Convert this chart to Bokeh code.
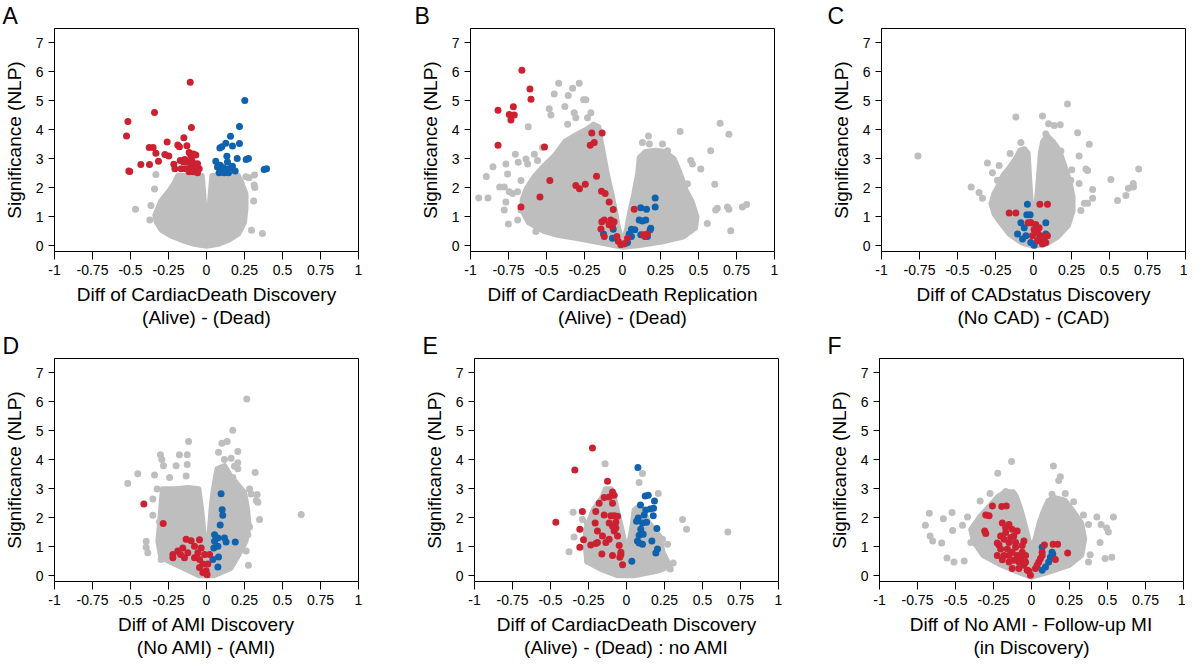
from bokeh.plotting import figure
from bokeh.layouts import column, row
from bokeh.models import FixedTicker, Range1d, Title
from bokeh.embed import file_html
from bokeh.resources import INLINE

FONT = "Liberation Sans"
GREY = "#bebebe"
RED = "#cc2131"
BLUE = "#0f62ae"

X_TICKS = [-1, -0.75, -0.5, -0.25, 0, 0.25, 0.5, 0.75, 1]
X_TICK_LABELS = ["-1", "-0.75", "-0.5", "-0.25", "0", "0.25", "0.5", "0.75", "1"]
Y_TICKS = [0, 1, 2, 3, 4, 5, 6, 7]
Y_TICK_LABELS = ["0", "1", "2", "3", "4", "5", "6", "7"]
Y_TITLE = "Significance (NLP)"

PANEL_LETTERS = ["A", "B", "C", "D", "E", "F"]
X_TITLES_1 = ["Diff of CardiacDeath Discovery", "Diff of CardiacDeath Replication",
              "Diff of CADstatus Discovery", "Diff of AMI Discovery",
              "Diff of CardiacDeath Discovery", "Diff of No AMI - Follow-up MI"]
X_TITLES_2 = ["(Alive) - (Dead)", "(Alive) - (Dead)", "(No CAD) - (CAD)",
              "(No AMI) - (AMI)", "(Alive) - (Dead) : no AMI", "(in Discovery)"]

# ---------------- Panel A ----------------
A_CLOUD_X = [0.0, -0.008, -0.018, -0.028, -0.08, -0.14, -0.19, -0.21, -0.24, -0.27, -0.30, -0.32, -0.34, -0.33, -0.30,
             -0.24, -0.16, -0.08, 0.0, 0.08, 0.15, 0.21, 0.25, 0.26, 0.26, 0.23, 0.21, 0.12, 0.035, 0.025, 0.012]
A_CLOUD_Y = [0.5, 1.0, 1.8, 2.42, 2.42, 2.42, 2.42, 2.2, 1.95, 1.75, 1.55, 1.3, 1.05, 0.8, 0.55,
             0.35, 0.18, 0.05, -0.02, 0.05, 0.2, 0.4, 0.8, 1.3, 1.8, 2.2, 2.42, 2.42, 2.42, 1.8, 1.0]
A_GREY_X = [-0.333, -0.342, -0.467, -0.373, -0.366, 0.368, 0.296, 0.316, 0.314, 0.318, 0.31, 0.259, 0.28]
A_GREY_Y = [2.46, 1.96, 1.26, 0.89, 1.39, 0.42, 0.53, 2.44, 2.10, 2.01, 1.54, 2.38, 2.35]
A_RED_X = [-0.517, -0.526, -0.342, -0.107, -0.099, -0.511, -0.432, -0.375, -0.377, -0.351,
           -0.333, -0.316, -0.259, -0.274, -0.248, -0.215, -0.208, -0.189, -0.178, -0.173,
           -0.167, -0.149, -0.129, -0.143, -0.114, -0.103, -0.086, -0.070, -0.125, -0.096,
           -0.081, -0.059, -0.103, -0.070, -0.048, -0.086, -0.059, -0.136, -0.151, -0.114, -0.505]
A_RED_Y = [4.29, 3.79, 4.60, 5.64, 4.08, 2.58, 2.80, 2.80, 3.39, 3.39,
           3.19, 2.92, 3.58, 3.15, 3.10, 2.81, 2.66, 3.48, 3.42, 2.94,
           2.66, 3.73, 3.45, 2.98, 3.22, 3.11, 3.17, 3.13, 2.89, 2.94,
           2.83, 2.83, 2.72, 2.66, 2.66, 2.55, 2.52, 2.66, 2.89, 2.55, 2.56]
A_BLUE_X = [0.252, 0.217, 0.158, 0.127, 0.217, 0.171, 0.088, 0.101, 0.134, 0.202, 0.261, 0.276, 0.061, 0.138,
            0.090, 0.171, 0.379, 0.395, 0.094, 0.127, 0.149, 0.189, 0.083, 0.116, 0.145, 0.072, 0.112]
A_BLUE_Y = [5.01, 4.12, 3.78, 3.54, 3.53, 3.44, 3.37, 3.42, 3.09, 3.01, 2.98, 3.01, 2.92, 2.89,
            2.78, 2.74, 2.63, 2.66, 2.61, 2.61, 2.66, 2.58, 2.52, 2.52, 2.52, 2.72, 2.69]

# ---------------- Panel B ----------------
B_CLOUD_X = [0.0, -0.011, -0.028, -0.044, -0.07, -0.10, -0.12, -0.14, -0.155, -0.19, -0.23,
             -0.30, -0.38, -0.45, -0.52, -0.58, -0.63, -0.66, -0.66, -0.62, -0.52, -0.42, -0.30, -0.15, -0.05, 0.0,
             0.1, 0.25, 0.40, 0.48, 0.49, 0.46, 0.42, 0.38, 0.34, 0.28, 0.22, 0.15, 0.11,
             0.10, 0.075, 0.045, 0.028, 0.012]
B_CLOUD_Y = [0.15, 0.32, 0.66, 1.12, 1.8, 2.48, 3.05, 3.6, 4.1, 4.2, 4.05,
             3.85, 3.6, 3.1, 2.75, 2.4, 2.0, 1.6, 1.2, 0.8, 0.5, 0.35, 0.25, 0.1, 0.0, -0.05,
             0.0, 0.12, 0.3, 0.6, 1.0, 1.5, 1.9, 2.5, 3.0, 3.25, 3.3, 3.25, 3.05,
             2.5, 1.8, 1.1, 0.6, 0.3]
B_GREY_X = [-0.946, -0.885, -0.896, -0.852, -0.808, -0.778, -0.767, -0.756, -0.745, -0.767,
            -0.751, -0.778, -0.705, -0.686, -0.624, -0.57, -0.62, -0.635, -0.559, -0.482,
            -0.471, -0.42, -0.449, -0.357, -0.328, -0.379, -0.318, -0.285, -0.256, -0.241,
            -0.208, -0.23, -0.51, -0.723, -0.69, -0.668, -0.624, -0.58, -0.526, -0.668, -0.69, -0.307, -0.361,
            0.131, 0.171, 0.177, 0.263, 0.296, 0.379, 0.449, 0.46, 0.515, 0.58, 0.607, 0.642,
            0.70, 0.613, 0.624, 0.69, 0.70, 0.712, 0.789, 0.817, 0.558, 0.47, 0.405, 0.427]
B_GREY_Y = [1.65, 1.65, 2.39, 2.73, 2.03, 2.03, 2.82, 2.48, 1.86, 1.51,
            0.75, 1.23, 3.16, 2.88, 1.0, 0.49, 4.11, 2.99, 2.94, 4.73,
            4.51, 5.61, 5.24, 5.19, 5.44, 4.81, 4.59, 5.61, 5.04, 5.04,
            4.59, 4.42, 1.8, 1.8, 1.86, 2.25, 2.82, 3.16, 3.39, 1.23, 0.89, 4.42, 4.19,
            3.56, 3.79, 3.51, 3.51, 3.28, 3.94, 2.94, 2.82, 2.65, 3.28, 2.12, 4.23,
            3.85, 1.23, 1.29, 1.34, 1.26, 0.52, 1.34, 1.42, 0.77, 0.89, 1.8, 2.14]
B_RED_X = [-0.662, -0.609, -0.602, -0.819, -0.718, -0.745, -0.712, -0.734, -0.819, -0.513,
           -0.202, -0.134, -0.186, -0.212, -0.171, -0.478, -0.307, -0.283, -0.245, -0.543,
           -0.668, -0.138, -0.114, -0.088, -0.061, -0.136, -0.120, -0.077, -0.055, -0.088,
           -0.066, -0.142, -0.120, -0.037, -0.028, -0.011, 0.011, 0.033, 0.077, 0.138,
           0.147, 0.164, -0.077]
B_RED_Y = [6.06, 5.41, 5.06, 4.68, 4.80, 4.53, 4.51, 4.34, 3.47, 3.41,
           3.89, 3.89, 3.56, 3.47, 2.40, 2.25, 2.08, 1.97, 2.12, 1.68,
           1.34, 1.88, 1.80, 1.51, 1.25, 0.83, 0.89, 0.89, 0.83, 0.72,
           0.66, 0.58, 0.32, 0.32, 0.15, 0.03, 0.07, 0.26, 1.26, 0.38,
           0.32, 0.40, 0.77]
B_BLUE_X = [0.215, 0.215, 0.120, 0.158, 0.110, 0.131, 0.153, 0.186, 0.182, 0.059,
            0.081, 0.044, 0.059, 0.033, 0.015, -0.061, -0.125, -0.066, 0.164, 0.120]
B_BLUE_Y = [1.65, 1.34, 1.31, 1.26, 0.89, 0.85, 0.89, 0.60, 0.55, 0.57,
            0.55, 0.40, 0.32, 0.11, 0.07, 0.57, 0.40, 0.26, 0.32, 0.38]

# ---------------- Panel C ----------------
C_CLOUD_X = [0.0, -0.012, -0.025, -0.035, -0.06, -0.09, -0.12, -0.16, -0.20, -0.23, -0.26, -0.28, -0.26, -0.22,
             -0.16, -0.08, 0.0, 0.08, 0.16, 0.23, 0.26, 0.26, 0.24, 0.21, 0.17, 0.13, 0.09, 0.06, 0.045, 0.03, 0.015]
C_CLOUD_Y = [0.75, 1.3, 2.3, 3.2, 3.35, 3.3, 3.0, 2.7, 2.45, 2.1, 1.8, 1.45, 1.1, 0.8,
             0.4, 0.1, -0.02, 0.05, 0.3, 0.7, 1.2, 1.7, 2.2, 2.7, 3.3, 3.6, 3.8, 3.6, 3.2, 2.2, 1.3]
C_GREY_X = [-0.76, -0.41, -0.358, -0.336, -0.303, -0.27, -0.226, -0.237, -0.154, -0.116,
            -0.083, -0.061, 0.059, 0.099, 0.136, 0.176, 0.224, 0.081, 0.29, 0.367,
            0.30, 0.345, 0.356, 0.30, 0.246, 0.252, 0.389, 0.389, 0.334, 0.356,
            0.312, 0.509, 0.553, 0.608, 0.624, 0.656, 0.658, 0.692, 0.147, 0.18]
C_GREY_Y = [3.10, 2.03, 1.84, 1.64, 2.86, 2.52, 2.77, 2.26, 3.18, 4.44,
            3.56, 3.30, 4.48, 4.21, 4.15, 4.18, 4.89, 3.86, 3.9, 3.50,
            3.10, 2.65, 2.60, 2.15, 2.26, 2.62, 1.94, 1.64, 1.47, 1.47,
            1.22, 2.29, 1.56, 1.73, 1.98, 2.15, 2.03, 2.65, 2.8, 3.27]
C_RED_X = [-0.16, -0.116, 0.042, 0.092, -0.018, 0.015, 0.037, 0.004, 0.048, 0.07, 0.081, 0.059, 0.026,
           -0.007, 0.026, 0.092, -0.035]
C_RED_Y = [1.13, 1.13, 1.43, 1.43, 0.79, 0.73, 0.62, 0.56, 0.34, 0.23, 0.11, 0.06, 0.17,
           0.34, 0.45, 0.34, 0.79]
C_BLUE_X = [-0.04, -0.044, -0.022, -0.083, -0.018, 0.081, -0.061, -0.105, -0.05, -0.018, 0.004, 0.081, -0.072, 0.037]
C_BLUE_Y = [1.43, 1.07, 1.07, 0.79, 0.79, 0.79, 0.62, 0.40, 0.34, 0.11, 0.02, 0.40, 0.23, 0.23]

# ---------------- Panel D ----------------
D_CLOUD_X = [0.0, -0.013, -0.03, -0.05, -0.12, -0.2, -0.29, -0.30, -0.31, -0.32, -0.30, -0.15, -0.05,
             0.05, 0.16, 0.2, 0.26, 0.28, 0.27, 0.25, 0.16, 0.12, 0.07, 0.06, 0.042, 0.03, 0.015]
D_CLOUD_Y = [0.8, 1.3, 2.2, 3.0, 3.05, 3.0, 3.0, 2.4, 1.75, 1.19, 0.62, 0.25, 0.0,
             0.0, 0.25, 0.6, 1.19, 1.75, 2.31, 2.88, 3.44, 3.8, 3.7, 3.44, 2.88, 2.31, 1.3]
D_GREY_X = [-0.518, -0.452, -0.303, -0.294, -0.283, -0.178, -0.2, -0.127, -0.118, -0.127,
            -0.134, -0.243, -0.342, -0.325, -0.353, -0.353, -0.397, -0.397, -0.386, -0.309,
            -0.298, -0.298,
            0.265, 0.173, 0.136, 0.101, 0.079, 0.206, 0.162, 0.118, 0.184, 0.206,
            0.32, 0.173, 0.283, 0.294, 0.333, 0.327, 0.338, 0.349, 0.25, 0.261,
            0.283, 0.272, 0.261, 0.276, 0.623, 0.206]
D_GREY_Y = [3.18, 3.52, 4.18, 4.01, 3.80, 4.18, 3.8, 4.18, 4.63, 3.84,
            3.44, 3.39, 3.48, 2.99, 2.65, 2.09, 1.19, 0.98, 0.79, 1.86,
            1.07, 0.56,
            6.10, 5.02, 4.63, 4.57, 4.26, 4.29, 4.06, 4.01, 3.78, 3.69,
            3.56, 3.39, 2.99, 2.82, 2.80, 2.60, 2.54, 1.94, 2.43, 1.75,
            1.69, 1.41, 0.85, 0.36, 2.11, 3.9]
D_RED_X = [-0.412, -0.285, -0.134, -0.101, -0.046, -0.079, -0.156, -0.189, -0.171, -0.221,
           -0.221, -0.123, -0.145, -0.057, -0.035, -0.013, 0.02, -0.046, -0.024, -0.046,
           -0.002, -0.024, 0.004, 0.009, -0.079]
D_RED_Y = [2.48, 1.80, 1.26, 1.21, 1.24, 1.02, 0.96, 0.85, 0.73, 0.73,
           0.62, 0.79, 0.62, 0.79, 0.96, 0.73, 0.73, 0.56, 0.40, 0.28,
           0.17, 0.11, 0.03, 0.40, 0.62]
D_BLUE_X = [0.096, 0.103, 0.107, 0.09, 0.053, 0.075, 0.118, 0.189, 0.129, 0.053, 0.048, 0.075, 0.079, 0.075, 0.042]
D_BLUE_Y = [2.83, 2.28, 2.09, 1.75, 1.41, 1.30, 1.30, 1.16, 1.16, 1.19, 0.96, 1.02, 0.65, 0.30, 0.56]

# ---------------- Panel E ----------------
E_CLOUD_X = [-0.005, -0.03, -0.06, -0.08, -0.10, -0.14, -0.16, -0.22, -0.27, -0.27, -0.26, -0.16, -0.06,
             0.05, 0.2, 0.28, 0.27, 0.24, 0.22, 0.15, 0.11, 0.08, 0.05, 0.04, 0.025, 0.008]
E_CLOUD_Y = [1.0, 1.6, 2.27, 2.72, 3.0, 3.0, 2.72, 2.27, 1.6, 0.92, 0.47, 0.2, 0.0,
             0.0, 0.15, 0.3, 0.5, 0.81, 1.37, 1.82, 2.27, 2.4, 2.27, 1.82, 1.37, 1.0]
E_GREY_X = [-0.141, 0.105, 0.083, 0.209, -0.351, -0.29, -0.257, -0.345, -0.378, 0.369,
            0.395, 0.667, 0.237, 0.270, 0.307, 0.288, -0.257, -0.224, 0.237]
E_GREY_Y = [3.87, 3.53, 3.22, 2.84, 2.19, 1.94, 1.82, 1.34, 0.83, 1.94,
            1.6, 1.51, 1.26, 1.09, 0.44, 0.23, 0.53, 0.47, 0.42]
E_RED_X = [-0.224, -0.340, -0.465, -0.125, -0.290, -0.307, -0.283, -0.307, -0.147, -0.18,
           -0.202, -0.206, -0.191, -0.235, -0.202, -0.191, -0.162, -0.158, -0.136, -0.114,
           -0.147, -0.114, -0.092, -0.081, -0.092, -0.103, -0.081, -0.059, -0.07, -0.092,
           -0.081, -0.114, -0.059, -0.048, -0.037, -0.044, -0.092, -0.026, -0.037, -0.07]
E_RED_Y = [4.41, 3.65, 1.85, 3.26, 2.22, 1.60, 1.24, 0.98, 2.70, 2.5,
           2.22, 1.82, 1.54, 1.06, 1.11, 1.15, 0.75, 1.37, 1.15, 1.82,
           2.1, 2.72, 2.89, 2.78, 2.5, 2.07, 2.07, 2.05, 1.85, 1.71,
           1.54, 1.26, 1.37, 1.04, 0.81, 0.64, 0.70, 0.38, 0.72, 1.65]
E_BLUE_X = [0.075, 0.123, 0.143, 0.092, 0.127, 0.156, 0.184, 0.178, 0.176, 0.2,
            0.077, 0.066, 0.105, 0.094, 0.083, 0.11, 0.072, 0.105, 0.083, 0.167,
            0.204, 0.193, 0.035, 0.132, 0.116]
E_BLUE_Y = [3.74, 2.75, 2.78, 2.44, 2.27, 2.30, 2.58, 2.33, 2.07, 1.63,
            1.99, 1.88, 1.82, 1.6, 1.40, 1.43, 1.20, 1.09, 1.13, 1.20,
            0.92, 0.78, 0.50, 1.85, 2.1]

# ---------------- Panel F ----------------
F_CLOUD_X = [0.0, -0.02, -0.045, -0.07, -0.1, -0.12, -0.17, -0.22, -0.27, -0.34, -0.40, -0.38, -0.32, -0.2,
             -0.08, 0.0, 0.1, 0.25, 0.33, 0.35, 0.33, 0.27, 0.22, 0.15, 0.11, 0.08, 0.05, 0.025]
F_CLOUD_Y = [0.9, 1.3, 1.82, 2.3, 2.75, 2.9, 2.9, 2.75, 2.45, 2.05, 1.6, 1.15, 0.7, 0.36,
             0.1, -0.05, 0.1, 0.36, 0.7, 1.26, 1.82, 2.27, 2.61, 2.7, 2.6, 2.27, 1.82, 1.3]
F_GREY_X = [-0.131, -0.222, 0.144, 0.19, 0.179, 0.135, 0.222, 0.277, 0.342, 0.43,
            0.539, 0.375, 0.458, 0.506, 0.495, 0.451, 0.386, 0.375, 0.484, 0.528,
            -0.698, -0.672, -0.667, -0.65, -0.591, -0.58, -0.523, -0.519, -0.556, -0.51,
            -0.443, -0.454, -0.421, -0.338, -0.273, -0.17, -0.105, -0.366, -0.399]
F_GREY_Y = [3.94, 3.54, 3.79, 3.42, 3.29, 2.81, 2.84, 2.55, 2.1, 2.03,
            2.03, 1.77, 1.77, 1.51, 1.65, 1.15, 0.72, 0.47, 0.59, 0.64,
            1.74, 2.16, 1.37, 1.2, 1.13, 1.97, 2.18, 1.56, 0.61, 0.47,
            0.51, 1.74, 2.03, 2.58, 2.84, 2.91, 2.67, 1.49, 1.15]
F_RED_X = [-0.257, -0.301, -0.279, -0.308, -0.301, -0.196, -0.166, -0.225, -0.214, -0.225,
           -0.192, -0.192, -0.148, -0.127, -0.170, -0.116, -0.181, -0.148, -0.105, -0.05,
           -0.159, -0.127, -0.094, -0.148, -0.061, -0.116, -0.083, -0.05, -0.028, -0.007,
           -0.203, -0.137, -0.105, -0.072, -0.17, -0.094, -0.203, -0.181, -0.039, -0.039,
           -0.127, -0.083, -0.017, -0.148, -0.061,
           0.085, 0.142, 0.172, 0.238, 0.157, 0.07, 0.048, 0.026, 0.07, 0.059, 0.037]
F_RED_Y = [2.41, 2.10, 2.07, 1.54, 1.46, 2.39, 2.41, 1.13, 1.06, 0.70,
           0.55, 1.82, 1.77, 1.6, 1.49, 1.37, 1.26, 1.15, 1.15, 1.2,
           0.92, 0.81, 0.70, 0.70, 0.81, 0.53, 0.47, 0.36, 0.19, 0.02,
           1.37, 1.32, 0.98, 0.59, 1.66, 1.54, 0.92, 0.70, 0.70, 0.47,
           0.25, 0.25, 0.16, 0.47, 1.04,
           1.06, 1.09, 1.09, 0.78, 0.56, 0.70, 0.47, 0.25, 0.81, 0.59, 0.36]
F_BLUE_X = [0.135, 0.124, 0.113, 0.07, 0.092, 0.07, 0.14]
F_BLUE_Y = [0.81, 0.64, 0.47, 0.98, 0.30, 0.19, 0.75]

FRAME_W = 304
FRAME_H = 223


def make_panel(idx, cloud_x, cloud_y, grey_x, grey_y, red_x, red_y, blue_x, blue_y,
               lb, rb, letter_offset):
    p = figure(frame_width=FRAME_W, frame_height=FRAME_H,
               x_range=Range1d(-1, 1), y_range=Range1d(-0.2, 7.5),
               output_backend="svg", toolbar_location=None, title=None,
               min_border_left=lb, min_border_right=rb,
               min_border_top=2, min_border_bottom=2)
    p.background_fill_color = "white"
    p.border_fill_color = "white"
    p.outline_line_color = "black"
    p.outline_line_width = 1
    p.outline_line_alpha = 1
    p.xgrid.visible = False
    p.ygrid.visible = False

    p.patch(cloud_x, cloud_y, fill_color=GREY, line_color=GREY, line_width=5, line_join="round")
    p.scatter(grey_x, grey_y, size=7, fill_color=GREY, line_color=None)
    p.scatter(blue_x, blue_y, size=7, fill_color=BLUE, line_color=None)
    p.scatter(red_x, red_y, size=7, fill_color=RED, line_color=None)

    xa = p.xaxis[0]
    xa.ticker = FixedTicker(ticks=X_TICKS)
    xa.major_label_overrides = dict(zip(X_TICKS, X_TICK_LABELS))
    xa.minor_tick_line_color = None
    xa.major_tick_in = 0
    xa.major_tick_out = 8
    xa.major_label_standoff = 5
    xa.axis_line_color = "black"
    xa.major_tick_line_color = "black"
    xa.major_label_text_font = FONT
    xa.major_label_text_font_size = "14px"
    xa.major_label_text_color = "black"
    xa.axis_label = X_TITLES_1[idx] + "\n" + X_TITLES_2[idx]
    xa.axis_label_text_font = FONT
    xa.axis_label_text_font_size = "19px"
    xa.axis_label_text_font_style = "normal"
    xa.axis_label_text_color = "black"
    xa.axis_label_text_line_height = 1.1
    xa.axis_label_standoff = 6

    ya = p.yaxis[0]
    ya.ticker = FixedTicker(ticks=Y_TICKS)
    ya.major_label_overrides = dict(zip(Y_TICKS, Y_TICK_LABELS))
    ya.minor_tick_line_color = None
    ya.major_tick_in = 0
    ya.major_tick_out = 6
    ya.major_label_standoff = 5
    ya.axis_line_color = "black"
    ya.major_tick_line_color = "black"
    ya.major_label_text_font = FONT
    ya.major_label_text_font_size = "14px"
    ya.major_label_text_color = "black"
    ya.axis_label = Y_TITLE
    ya.axis_label_text_font = FONT
    ya.axis_label_text_font_size = "19px"
    ya.axis_label_text_font_style = "normal"
    ya.axis_label_text_color = "black"
    ya.axis_label_standoff = 8

    p.add_layout(Title(text=PANEL_LETTERS[idx], align="left", offset=letter_offset, standoff=0,
                       text_font=FONT, text_font_size="23px", text_font_style="normal",
                       text_color="black"), "above")
    return p


pA = make_panel(0, A_CLOUD_X, A_CLOUD_Y, A_GREY_X, A_GREY_Y, A_RED_X, A_RED_Y, A_BLUE_X, A_BLUE_Y,
                49, 8, -52)
pB = make_panel(1, B_CLOUD_X, B_CLOUD_Y, B_GREY_X, B_GREY_Y, B_RED_X, B_RED_Y, B_BLUE_X, B_BLUE_Y,
                104, 10, -56)
pC = make_panel(2, C_CLOUD_X, C_CLOUD_Y, C_GREY_X, C_GREY_Y, C_RED_X, C_RED_Y, C_BLUE_X, C_BLUE_Y,
                97, 2, -54)
pD = make_panel(3, D_CLOUD_X, D_CLOUD_Y, D_GREY_X, D_GREY_Y, D_RED_X, D_RED_Y, D_BLUE_X, D_BLUE_Y,
                49, 8, -52)
pE = make_panel(4, E_CLOUD_X, E_CLOUD_Y, E_GREY_X, E_GREY_Y, E_RED_X, E_RED_Y, E_BLUE_X, E_BLUE_Y,
                108, 10, -52)
pF = make_panel(5, F_CLOUD_X, F_CLOUD_Y, F_GREY_X, F_GREY_Y, F_RED_X, F_RED_Y, F_BLUE_X, F_BLUE_Y,
                91, 2, -52)

layout = column(row(pA, pB, pC), row(pD, pE, pF))
open("out.html", "w").write(file_html(layout, INLINE))
